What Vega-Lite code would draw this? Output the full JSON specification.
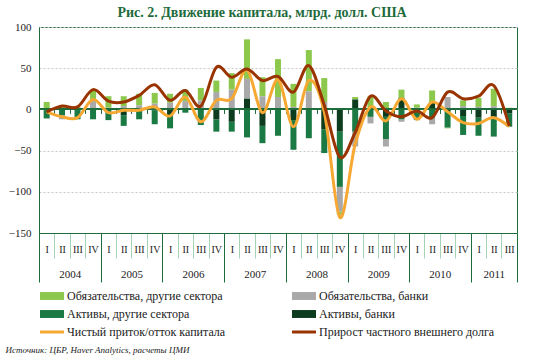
{
  "$schema": "https://vega.github.io/schema/vega-lite/v6.json",
  "width": 478,
  "height": 206,
  "autosize": {"type": "none"},
  "padding": {"left": 39, "top": 27, "right": 25, "bottom": 123},
  "background": "white",
  "title": {"text": "Рис. 2. Движение капитала, млрд. долл. США", "font": "Liberation Sans Narrow, Liberation Serif", "fontSize": 14, "fontWeight": "bold", "color": "#1E6B3C", "anchor": "middle", "dx": -16, "offset": 1},
  "datasets": {
    "flows": [
      {"date": "2004-01-01T00:00:00", "Обязательства, другие сектора": 9, "Обязательства, банки": 0, "Активы, другие сектора": -10, "Активы, банки": -1, "Чистый приток/отток капитала": -3, "Прирост частного внешнего долга": -3},
      {"date": "2004-04-01T00:00:00", "Обязательства, другие сектора": 5, "Обязательства, банки": -5, "Активы, другие сектора": -7, "Активы, банки": 0, "Чистый приток/отток капитала": -9, "Прирост частного внешнего долга": 4},
      {"date": "2004-07-01T00:00:00", "Обязательства, другие сектора": 3, "Обязательства, банки": 0, "Активы, другие сектора": -12, "Активы, банки": 0, "Чистый приток/отток капитала": -10, "Прирост частного внешнего долга": 3},
      {"date": "2004-10-01T00:00:00", "Обязательства, другие сектора": 12, "Обязательства, банки": 10, "Активы, другие сектора": -12, "Активы, банки": 1, "Чистый приток/отток капитала": 12, "Прирост частного внешнего долга": 24},
      {"date": "2005-01-01T00:00:00", "Обязательства, другие сектора": 14, "Обязательства, банки": 2, "Активы, другие сектора": -13, "Активы, банки": 0, "Чистый приток/отток капитала": -4, "Прирост частного внешнего долга": 10},
      {"date": "2005-04-01T00:00:00", "Обязательства, другие сектора": 12, "Обязательства, банки": 4, "Активы, другие сектора": -13, "Активы, банки": -7, "Чистый приток/отток капитала": -1, "Прирост частного внешнего долга": 9},
      {"date": "2005-07-01T00:00:00", "Обязательства, другие сектора": 14, "Обязательства, банки": 5, "Активы, другие сектора": -12, "Активы, банки": 0, "Чистый приток/отток капитала": -1, "Прирост частного внешнего долга": 17},
      {"date": "2005-10-01T00:00:00", "Обязательства, другие сектора": 13, "Обязательства, банки": 7, "Активы, другие сектора": -17, "Активы, банки": -1, "Чистый приток/отток капитала": 3, "Прирост частного внешнего долга": 30},
      {"date": "2006-01-01T00:00:00", "Обязательства, другие сектора": 11, "Обязательства, банки": 8, "Активы, другие сектора": -15, "Активы, банки": -8, "Чистый приток/отток капитала": -8, "Прирост частного внешнего долга": 11},
      {"date": "2006-04-01T00:00:00", "Обязательства, другие сектора": 14, "Обязательства, банки": 10, "Активы, другие сектора": -4, "Активы, банки": 0, "Чистый приток/отток капитала": 15, "Прирост частного внешнего долга": 23},
      {"date": "2006-07-01T00:00:00", "Обязательства, другие сектора": 15, "Обязательства, банки": 11, "Активы, другие сектора": -19, "Активы, банки": 0, "Чистый приток/отток капитала": -15, "Прирост частного внешнего долга": 4},
      {"date": "2006-10-01T00:00:00", "Обязательства, другие сектора": 14, "Обязательства, банки": 21, "Активы, другие сектора": -15, "Активы, банки": -12, "Чистый приток/отток капитала": 11, "Прирост частного внешнего долга": 51},
      {"date": "2007-01-01T00:00:00", "Обязательства, другие сектора": 20, "Обязательства, банки": 24, "Активы, другие сектора": -12, "Активы, банки": -15, "Чистый приток/отток капитала": 13, "Прирост частного внешнего долга": 39},
      {"date": "2007-04-01T00:00:00", "Обязательства, другие сектора": 48, "Обязательства, банки": 24, "Активы, другие сектора": -34, "Активы, банки": 13, "Чистый приток/отток капитала": 48, "Прирост частного внешнего долга": 49},
      {"date": "2007-07-01T00:00:00", "Обязательства, другие сектора": 23, "Обязательства, банки": 16, "Активы, другие сектора": -21, "Активы, банки": -20, "Чистый приток/отток капитала": -4, "Прирост частного внешнего долга": 35},
      {"date": "2007-10-01T00:00:00", "Обязательства, другие сектора": 46, "Обязательства, банки": 15, "Активы, другие сектора": -32, "Активы, банки": 0, "Чистый приток/отток капитала": 36, "Прирост частного внешнего долга": 40},
      {"date": "2008-01-01T00:00:00", "Обязательства, другие сектора": 28, "Обязательства, банки": 3, "Активы, другие сектора": -36, "Активы, банки": -13, "Чистый приток/отток капитала": -21, "Прирост частного внешнего долга": 21},
      {"date": "2008-04-01T00:00:00", "Обязательства, другие сектора": 50, "Обязательства, банки": 22, "Активы, другие сектора": -35, "Активы, банки": 0, "Чистый приток/отток капитала": 35, "Прирост частного внешнего долга": 53},
      {"date": "2008-07-01T00:00:00", "Обязательства, другие сектора": 29, "Обязательства, банки": 9, "Активы, другие сектора": -29, "Активы, банки": -24, "Чистый приток/отток капитала": -3, "Прирост частного внешнего долга": 5},
      {"date": "2008-10-01T00:00:00", "Обязательства, другие сектора": -4, "Обязательства, банки": -30, "Активы, другие сектора": -67, "Активы, банки": -27, "Чистый приток/отток капитала": -131, "Прирост частного внешнего долга": -58},
      {"date": "2009-01-01T00:00:00", "Обязательства, другие сектора": 3, "Обязательства, банки": -18, "Активы, другие сектора": -27, "Активы, банки": 12, "Чистый приток/отток капитала": -42, "Прирост частного внешнего долга": -28},
      {"date": "2009-04-01T00:00:00", "Обязательства, другие сектора": 16, "Обязательства, банки": -8, "Активы, другие сектора": -9, "Активы, банки": 0, "Чистый приток/отток капитала": 3, "Прирост частного внешнего долга": 16},
      {"date": "2009-07-01T00:00:00", "Обязательства, другие сектора": 9, "Обязательства, банки": -9, "Активы, другие сектора": -27, "Активы, банки": -9, "Чистый приток/отток капитала": -14, "Прирост частного внешнего долга": -2},
      {"date": "2009-10-01T00:00:00", "Обязательства, другие сектора": 10, "Обязательства, банки": -3, "Активы, другие сектора": -12, "Активы, банки": 14, "Чистый приток/отток капитала": 13, "Прирост частного внешнего долга": -9},
      {"date": "2010-01-01T00:00:00", "Обязательства, другие сектора": 4, "Обязательства, банки": 2, "Активы, другие сектора": -11, "Активы, банки": -2, "Чистый приток/отток капитала": -12, "Прирост частного внешнего долга": -2},
      {"date": "2010-04-01T00:00:00", "Обязательства, другие сектора": 15, "Обязательства, банки": -8, "Активы, другие сектора": -10, "Активы, банки": 8, "Чистый приток/отток капитала": 9, "Прирост частного внешнего долга": -10},
      {"date": "2010-07-01T00:00:00", "Обязательства, другие сектора": -1, "Обязательства, банки": 15, "Активы, другие сектора": -20, "Активы, банки": -2, "Чистый приток/отток капитала": -3, "Прирост частного внешнего долга": 21},
      {"date": "2010-10-01T00:00:00", "Обязательства, другие сектора": 7, "Обязательства, банки": 4, "Активы, другие сектора": -23, "Активы, банки": -8, "Чистый приток/отток капитала": -16, "Прирост частного внешнего долга": 13},
      {"date": "2011-01-01T00:00:00", "Обязательства, другие сектора": 11, "Обязательства, банки": 3, "Активы, другие сектора": -22, "Активы, банки": -10, "Чистый приток/отток капитала": -17, "Прирост частного внешнего долга": 16},
      {"date": "2011-04-01T00:00:00", "Обязательства, другие сектора": 21, "Обязательства, банки": 4, "Активы, другие сектора": -24, "Активы, банки": -9, "Чистый приток/отток капитала": -10, "Прирост частного внешнего долга": 29},
      {"date": "2011-07-01T00:00:00", "Обязательства, другие сектора": 2, "Обязательства, банки": 0, "Активы, другие сектора": -16, "Активы, банки": -5, "Чистый приток/отток капитала": -21, "Прирост частного внешнего долга": -20}
    ]
  },
  "data": {"name": "flows"},
  "layer": [
    {
      "transform": [{"fold": ["Обязательства, другие сектора", "Обязательства, банки", "Активы, другие сектора", "Активы, банки"], "as": ["series", "value"]}],
      "mark": {"type": "bar", "width": 6},
      "encoding": {
        "x": {
          "field": "date", "timeUnit": "yearquarter", "type": "temporal", "bandPosition": 0.5,
          "scale": {"domain": [{"year": 2004, "month": 1, "date": 1}, {"year": 2011, "month": 10, "date": 1}], "nice": false},
          "axis": {
            "orient": "bottom", "title": null, "grid": false,
            "tickCount": {"interval": "month", "step": 3},
            "labelExpr": "time(datum.value) >= time(datetime(2011, 9, 1)) ? '' : ['I','II','III','IV'][quarter(datum.value) - 1]",
            "labelOffset": 7.7, "labelAlign": "center", "labelBaseline": "middle", "labelPadding": -9,
            "labelFlush": false, "labelOverlap": false, "labelBound": false,
            "tickSize": 25, "tickColor": "#A3D2B5", "tickWidth": 1,
            "domainColor": "#1E6B3C", "domainWidth": 1,
            "labelFont": "Liberation Serif", "labelFontSize": 10, "labelColor": "#222222"
          }
        },
        "y": {"field": "value", "type": "quantitative", "stack": "zero", "scale": {"domain": [-150, 100], "nice": false}, "title": null},
        "color": {
          "field": "series", "type": "nominal",
          "scale": {
            "domain": ["Обязательства, другие сектора", "Активы, другие сектора", "Чистый приток/отток капитала", "Обязательства, банки", "Активы, банки", "Прирост частного внешнего долга"],
            "range": ["#8CC84B", "#1B7A43", "#F7A833", "#A9A9A9", "#0D3B1E", "#993300"]
          },
          "legend": {
            "title": null, "orient": "none", "legendX": 7, "legendY": 263,
            "columns": 2, "columnPadding": 60, "rowPadding": 6, "padding": 0,
            "symbolSize": 64, "labelOffset": 9, "labelLimit": 300,
            "labelFont": "Liberation Serif", "labelFontSize": 12, "labelColor": "#1A1A1A",
            "encode": {
              "symbols": {
                "update": {
                  "shape": {"signal": "indexof(['Чистый приток/отток капитала', 'Прирост частного внешнего долга'], datum.value) >= 0 ? 'M-1,0H1' : 'M-1,-0.33H1V0.33H-1Z'"},
                  "size": {"value": 576},
                  "fill": {"scale": "color", "field": "value"},
                  "stroke": {"scale": "color", "field": "value"},
                  "strokeWidth": {"signal": "indexof(['Чистый приток/отток капитала', 'Прирост частного внешнего долга'], datum.value) >= 0 ? 3 : 0"},
                  "opacity": {"value": 1},
                  "fillOpacity": {"value": 1},
                  "strokeOpacity": {"value": 1}
                }
              }
            }
          }
        },
        "order": {"field": "series", "type": "ordinal", "sort": "ascending"}
      }
    },
    {
      "mark": {"type": "rule", "color": "#1E6B3C", "strokeWidth": 1.3},
      "encoding": {
        "y": {"datum": 0},
        "x": {
          "datum": {"year": 2004, "month": 1, "date": 1}, "type": "temporal",
          "axis": {
            "orient": "bottom", "title": null, "grid": false, "labels": false, "domain": false,
            "offset": -123.6,
            "tickCount": {"interval": "month", "step": 3},
            "tickSize": 4, "tickColor": "#1E6B3C", "tickWidth": 1
          }
        },
        "x2": {"datum": {"year": 2011, "month": 10, "date": 1}}
      }
    },
    {
      "mark": {"type": "line", "interpolate": "cardinal", "strokeWidth": 3},
      "encoding": {
        "x": {
          "field": "date", "timeUnit": "yearquarter", "type": "temporal", "bandPosition": 0.5,
          "axis": {
            "orient": "bottom", "title": null, "grid": false, "labels": false, "domain": false,
            "values": [{"year": 2004, "month": 1, "date": 1}, {"year": 2005, "month": 1, "date": 1}, {"year": 2006, "month": 1, "date": 1}, {"year": 2007, "month": 1, "date": 1}, {"year": 2008, "month": 1, "date": 1}, {"year": 2009, "month": 1, "date": 1}, {"year": 2010, "month": 1, "date": 1}, {"year": 2011, "month": 1, "date": 1}, {"year": 2011, "month": 10, "date": 1}],
            "tickSize": 49, "tickColor": "#1E6B3C", "tickWidth": 1
          }
        },
        "y": {"field": "Чистый приток/отток капитала", "type": "quantitative", "title": null},
        "color": {"datum": "Чистый приток/отток капитала", "type": "nominal"}
      }
    },
    {
      "mark": {"type": "line", "interpolate": "cardinal", "strokeWidth": 3},
      "encoding": {
        "x": {
          "field": "date", "timeUnit": "yearquarter", "type": "temporal", "bandPosition": 0.5,
          "axis": {
            "orient": "bottom",
            "title": "Источник: ЦБР, Haver Analytics, расчеты ЦМИ",
            "titleX": -34, "titleY": 119, "titleAlign": "left", "titleBaseline": "alphabetic",
            "titleFont": "Liberation Serif", "titleFontStyle": "italic", "titleFontWeight": "normal", "titleFontSize": 9, "titleColor": "#1A1A1A",
            "grid": false, "ticks": false, "domain": false,
            "values": [{"year": 2004, "month": 7, "date": 1}, {"year": 2005, "month": 7, "date": 1}, {"year": 2006, "month": 7, "date": 1}, {"year": 2007, "month": 7, "date": 1}, {"year": 2008, "month": 7, "date": 1}, {"year": 2009, "month": 7, "date": 1}, {"year": 2010, "month": 7, "date": 1}, {"year": 2011, "month": 5, "date": 16}],
            "labelExpr": "timeFormat(datum.value, '%Y')",
            "labelPadding": 41, "labelBaseline": "middle", "labelAlign": "center", "labelFlush": false, "labelOverlap": false,
            "labelFont": "Liberation Serif", "labelFontSize": 11, "labelColor": "#222222"
          }
        },
        "y": {"field": "Прирост частного внешнего долга", "type": "quantitative", "title": null},
        "color": {"datum": "Прирост частного внешнего долга", "type": "nominal"}
      }
    }
  ],
  "resolve": {"axis": {"x": "independent"}},
  "config": {
    "view": {"stroke": "#1E6B3C", "strokeWidth": 1},
    "axisY": {
      "title": null, "values": [-150, -100, -50, 0, 50, 100],
      "domainColor": "#1E6B3C", "ticks": false, "labelPadding": 8,
      "labelFont": "Liberation Serif", "labelFontSize": 11, "labelColor": "#222222",
      "grid": true, "gridColor": "#C8C8C8", "gridDash": [2, 2], "gridWidth": 1
    }
  }
}
